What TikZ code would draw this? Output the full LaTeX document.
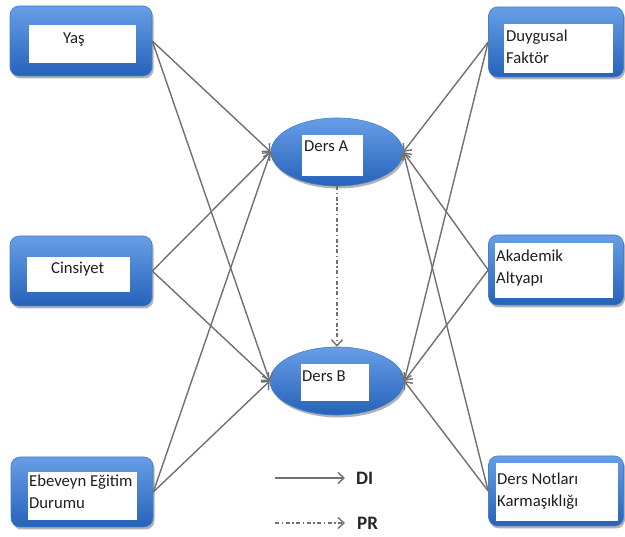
\documentclass[tikz,border=0pt]{standalone}
\usepackage{fontspec}
\setmainfont{Carlito}
\usetikzlibrary{arrows.meta,shapes.geometric,shadows}

\definecolor{boxtop}{RGB}{104,158,230}
\definecolor{boxbot}{RGB}{38,98,186}
\definecolor{boxrim}{RGB}{70,125,205}
\definecolor{linkgray}{RGB}{112,112,112}

% two lines of text whose baseline is the first line's baseline
\newcommand\stacklines[2]{\vtop{\hbox{#1}\hbox{#2}}}

\tikzset{
  bluebox/.style={rectangle, rounded corners=9pt, draw=boxrim, line width=0.6pt,
    top color=boxtop, bottom color=boxbot, minimum width=142pt, minimum height=70pt,
    inner sep=0pt, drop shadow={shadow xshift=1.5pt, shadow yshift=-2.5pt, opacity=0.3, fill=black}},
  blueoval/.style={ellipse, draw=boxrim, line width=0.6pt,
    top color=boxtop, bottom color=boxbot, inner sep=0pt,
    drop shadow={shadow xshift=1.5pt, shadow yshift=-2.5pt, opacity=0.3, fill=black}},
  whitepad/.style={rectangle, fill=white, draw=none, inner sep=0pt},
  lbl/.style={inner sep=0pt, anchor=base west, text=black!88,
    font=\fontsize{16.7}{21.5}\selectfont},
  legendlbl/.style={inner sep=0pt, anchor=west, text=black!85,
    font=\fontsize{19}{22}\selectfont\bfseries},
  link/.style={draw=linkgray, line width=1.4pt,
    -{Straight Barb[length=6pt,width=11pt,line width=1.4pt]}},
  pathlink/.style={draw=linkgray, line width=1.4pt,
    dash pattern=on 4pt off 2.5pt on 1.5pt off 2.5pt,
    -{Straight Barb[length=6pt,width=11pt,line width=1.4pt]}},
}

\begin{document}
\begin{tikzpicture}[x=1pt, y=-1pt]
  \useasboundingbox (0,0) rectangle (625,537);

  % factor boxes, left column
  \node[bluebox] (yas)  at (81,41)   {};
  \node[bluebox] (cins) at (81,271)  {};
  \node[bluebox] (ebev) at (82,492)  {};
  % factor boxes, right column
  \node[bluebox, minimum width=135pt] (duyg) at (556,42)  {};
  \node[bluebox, minimum width=135pt] (akad) at (556,270) {};
  \node[bluebox, minimum width=135pt] (dnot) at (556,491) {};

  % course ellipses
  \node[blueoval, minimum width=132pt, minimum height=68pt] (dA) at (337,152) {};
  \node[blueoval, minimum width=134pt, minimum height=68pt] (dB) at (337,381) {};

  % white label pads
  \node[whitepad, minimum width=107pt, minimum height=38pt] (yasw)  at (82.5,44)  {};
  \node[whitepad, minimum width=103pt, minimum height=35pt] (cinsw) at (78.5,274.5) {};
  \node[whitepad, minimum width=109pt, minimum height=48pt] (ebevw) at (82.5,496) {};
  \node[whitepad, minimum width=109pt, minimum height=49pt] (duygw) at (558.5,48.5) {};
  \node[whitepad, minimum width=118pt, minimum height=55pt] (akadw) at (554,270.5) {};
  \node[whitepad, minimum width=122pt, minimum height=58pt] (dnotw) at (557,492) {};
  \node[whitepad, minimum width=61pt, minimum height=41pt] (dAw) at (332.5,155.5) {};
  \node[whitepad, minimum width=68pt, minimum height=37pt] (dBw) at (335,382.5) {};

  % labels
  \node[lbl] (yast)  at (63,44)   {Yaş};
  \node[lbl] (cinst) at (51,274)  {Cinsiyet};
  \node[lbl] (ebevt) at (29,487)  {\stacklines{Ebeveyn Eğitim}{Durumu}};
  \node[lbl] (duygt) at (506,42)  {\stacklines{Duygusal}{Faktör}};
  \node[lbl] (akadt) at (496,262) {\stacklines{Akademik}{Altyapı}};
  \node[lbl] (dnott) at (497,485) {\stacklines{Ders Notları}{Karmaşıklığı}};
  \node[lbl] (dAt)   at (304,152) {Ders A};
  \node[lbl] (dBt)   at (302,382) {Ders B};

  % direct influences
  \foreach \src in {yas, cins, ebev} {
    \draw[link] (\src.east) -- (dA.west);
    \draw[link] (\src.east) -- (dB.west);
  }
  \foreach \src in {duyg, akad, dnot} {
    \draw[link] (\src.west) -- (dA.east);
    \draw[link] (\src.west) -- (dB.east);
  }

  % prerequisite link
  \draw[pathlink] (dA.south) -- (dB.north);

  % legend
  \coordinate (legDI) at (275,478);
  \coordinate (legPR) at (275,523);
  \node[legendlbl] (DI) at (356,478) {DI};
  \node[legendlbl] (PR) at (357,523) {PR};
  \draw[link, line width=1.8pt, shorten >=11pt] (legDI) -- (DI.west);
  \draw[pathlink, shorten >=12pt] (legPR) -- (PR.west);
\end{tikzpicture}
\end{document}
